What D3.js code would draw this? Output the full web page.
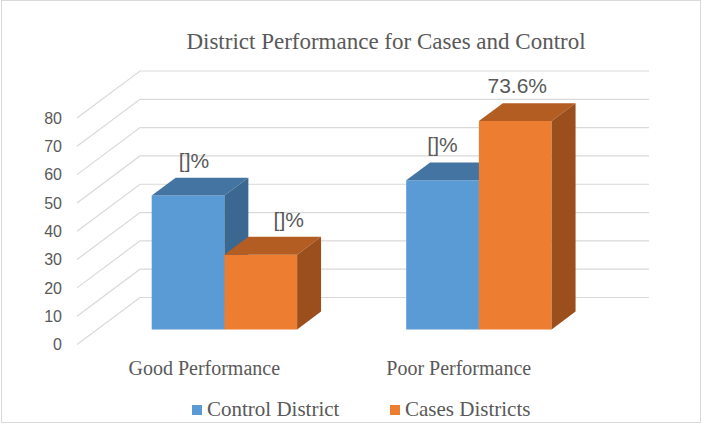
<!DOCTYPE html>
<html>
<head>
<meta charset="utf-8">
<script src="https://cdn.jsdelivr.net/npm/d3@7"></script>
<style>
  body { margin: 0; background: #fff; }
  svg { display: block; }
</style>
</head>
<body>
<svg id="chart" width="704" height="425"></svg>
<script>
// chart data
var categories = ["Good Performance", "Poor Performance"];
var seriesNames = ["Control District", "Cases Districts"];
var controlValues = [47.3, 52.7];
var casesValues = [26.4, 73.6];
var controlLabels = ["[]%", "[]%"];
var casesLabels = ["[]%", "73.6%"];
var yTicks = [0, 10, 20, 30, 40, 50, 60, 70, 80];

// colours: front, top, side
var palette = [
    { front: "#5b9bd5", top: "#4474a1", side: "#3b6890" },
    { front: "#ed7d31", top: "#b45d22", side: "#9a4f1d" }
];
// small manual shifts of the value labels, like the original
var labelNudge = [[-6, -12], [16, -10]];

var svg = d3.select("#chart");
var grey = "#595959";

// chart frame
svg.append("rect")
    .attr("x", 1.5).attr("y", 0.5)
    .attr("width", 699).attr("height", 422)
    .attr("fill", "#fff").attr("stroke", "#d9d9d9");

// 3d projection: depth goes up-right
var depth = { dx: 63, dy: -47 };
var barDepth = [0.32, 0.70];

var x0 = d3.scaleBand().domain(categories).range([77, 586]);
var groupW = x0.bandwidth() * 2 / 3.5;
var x1 = d3.scaleBand().domain(seriesNames)
    .range([(x0.bandwidth() - groupW) / 2, (x0.bandwidth() + groupW) / 2]);
var y = d3.scaleLinear().domain([0, 80]).range([344.5, 118]);

function proj(x, v, f) {
    return [x + depth.dx * f, y(v) + depth.dy * f];
}

// gridlines: side wall diagonal + back wall horizontal
var grid = svg.append("g").attr("id", "gridHome");
grid.selectAll("path").data(yTicks).enter().append("path")
    .attr("d", function (d) {
        var a = proj(x0.range()[0], d, 0),
            b = proj(x0.range()[0], d, 1),
            c = proj(x0.range()[1], d, 1);
        return "M" + a + "L" + b + "L" + c;
    })
    .attr("fill", "none")
    .attr("stroke", "#d9d9d9")
    .attr("stroke-width", 1.2);

// y tick labels
svg.append("g").selectAll("text").data(yTicks).enter().append("text")
    .attr("x", 62)
    .attr("y", function (d) { return y(d); })
    .attr("dy", "0.36em")
    .attr("text-anchor", "end")
    .attr("fill", grey)
    .attr("font-family", "Liberation Sans, Arial, sans-serif")
    .attr("font-size", "16px")
    .text(function (d) { return d; });

// bars
var bars = [];
categories.forEach(function (c, i) {
    bars.push({ cat: c, s: 0, v: controlValues[i], label: controlLabels[i] });
    bars.push({ cat: c, s: 1, v: casesValues[i], label: casesLabels[i] });
});

var barHome = svg.append("g").attr("id", "barHome");
bars.forEach(function (d) {
    var xl = x0(d.cat) + x1(seriesNames[d.s]),
        xr = xl + x1.bandwidth(),
        f0 = barDepth[0], f1 = barDepth[1],
        col = palette[d.s];
    var g = barHome.append("g");
    var poly = function (pts) { return "M" + pts.join("L") + "Z"; };
    // front
    g.append("path")
        .attr("d", poly([proj(xl, 0, f0), proj(xr, 0, f0), proj(xr, d.v, f0), proj(xl, d.v, f0)]))
        .attr("fill", col.front);
    // top
    g.append("path")
        .attr("d", poly([proj(xl, d.v, f0), proj(xr, d.v, f0), proj(xr, d.v, f1), proj(xl, d.v, f1)]))
        .attr("fill", col.top);
    // side
    g.append("path")
        .attr("d", poly([proj(xr, 0, f0), proj(xr, 0, f1), proj(xr, d.v, f1), proj(xr, d.v, f0)]))
        .attr("fill", col.side);
});

// value labels, placed over the middle of the top face
svg.append("g").selectAll("text").data(bars).enter().append("text")
    .attr("x", function (d) {
        var cx = x0(d.cat) + x1(seriesNames[d.s]) + x1.bandwidth() / 2;
        var mid = (barDepth[0] + barDepth[1]) / 2;
        return proj(cx, d.v, mid)[0] + labelNudge[d.s][categories.indexOf(d.cat)];
    })
    .attr("y", function (d) { return proj(0, d.v, barDepth[1])[1] - 10; })
    .attr("text-anchor", "middle")
    .attr("fill", grey)
    .attr("font-family", "Liberation Sans, Arial, sans-serif")
    .attr("font-size", "21px")
    .text(function (d) { return d.label; });

// category labels
svg.append("g").selectAll("text").data(categories).enter().append("text")
    .attr("x", function (d) { return x0(d) + x0.bandwidth() / 2; })
    .attr("y", 375)
    .attr("text-anchor", "middle")
    .attr("fill", grey)
    .attr("font-family", "Liberation Serif, Times New Roman, serif")
    .attr("font-size", "20px")
    .text(function (d) { return d; });

// title
svg.append("text")
    .attr("x", 386).attr("y", 49)
    .attr("text-anchor", "middle")
    .attr("fill", grey)
    .attr("font-family", "Liberation Serif, Times New Roman, serif")
    .attr("font-size", "23px")
    .text("District Performance for Cases and Control");

// legend
var legendX = [192, 390];
var legend = svg.append("g").selectAll("g").data(seriesNames).enter().append("g")
    .attr("transform", function (d, i) { return "translate(" + legendX[i] + ",405)"; });
legend.append("rect")
    .attr("width", 10).attr("height", 10)
    .attr("fill", function (d, i) { return palette[i].front; });
legend.append("text")
    .attr("x", 15).attr("y", 11)
    .attr("fill", grey)
    .attr("font-family", "Liberation Serif, Times New Roman, serif")
    .attr("font-size", "21px")
    .text(function (d) { return d; });
</script>
</body>
</html>
